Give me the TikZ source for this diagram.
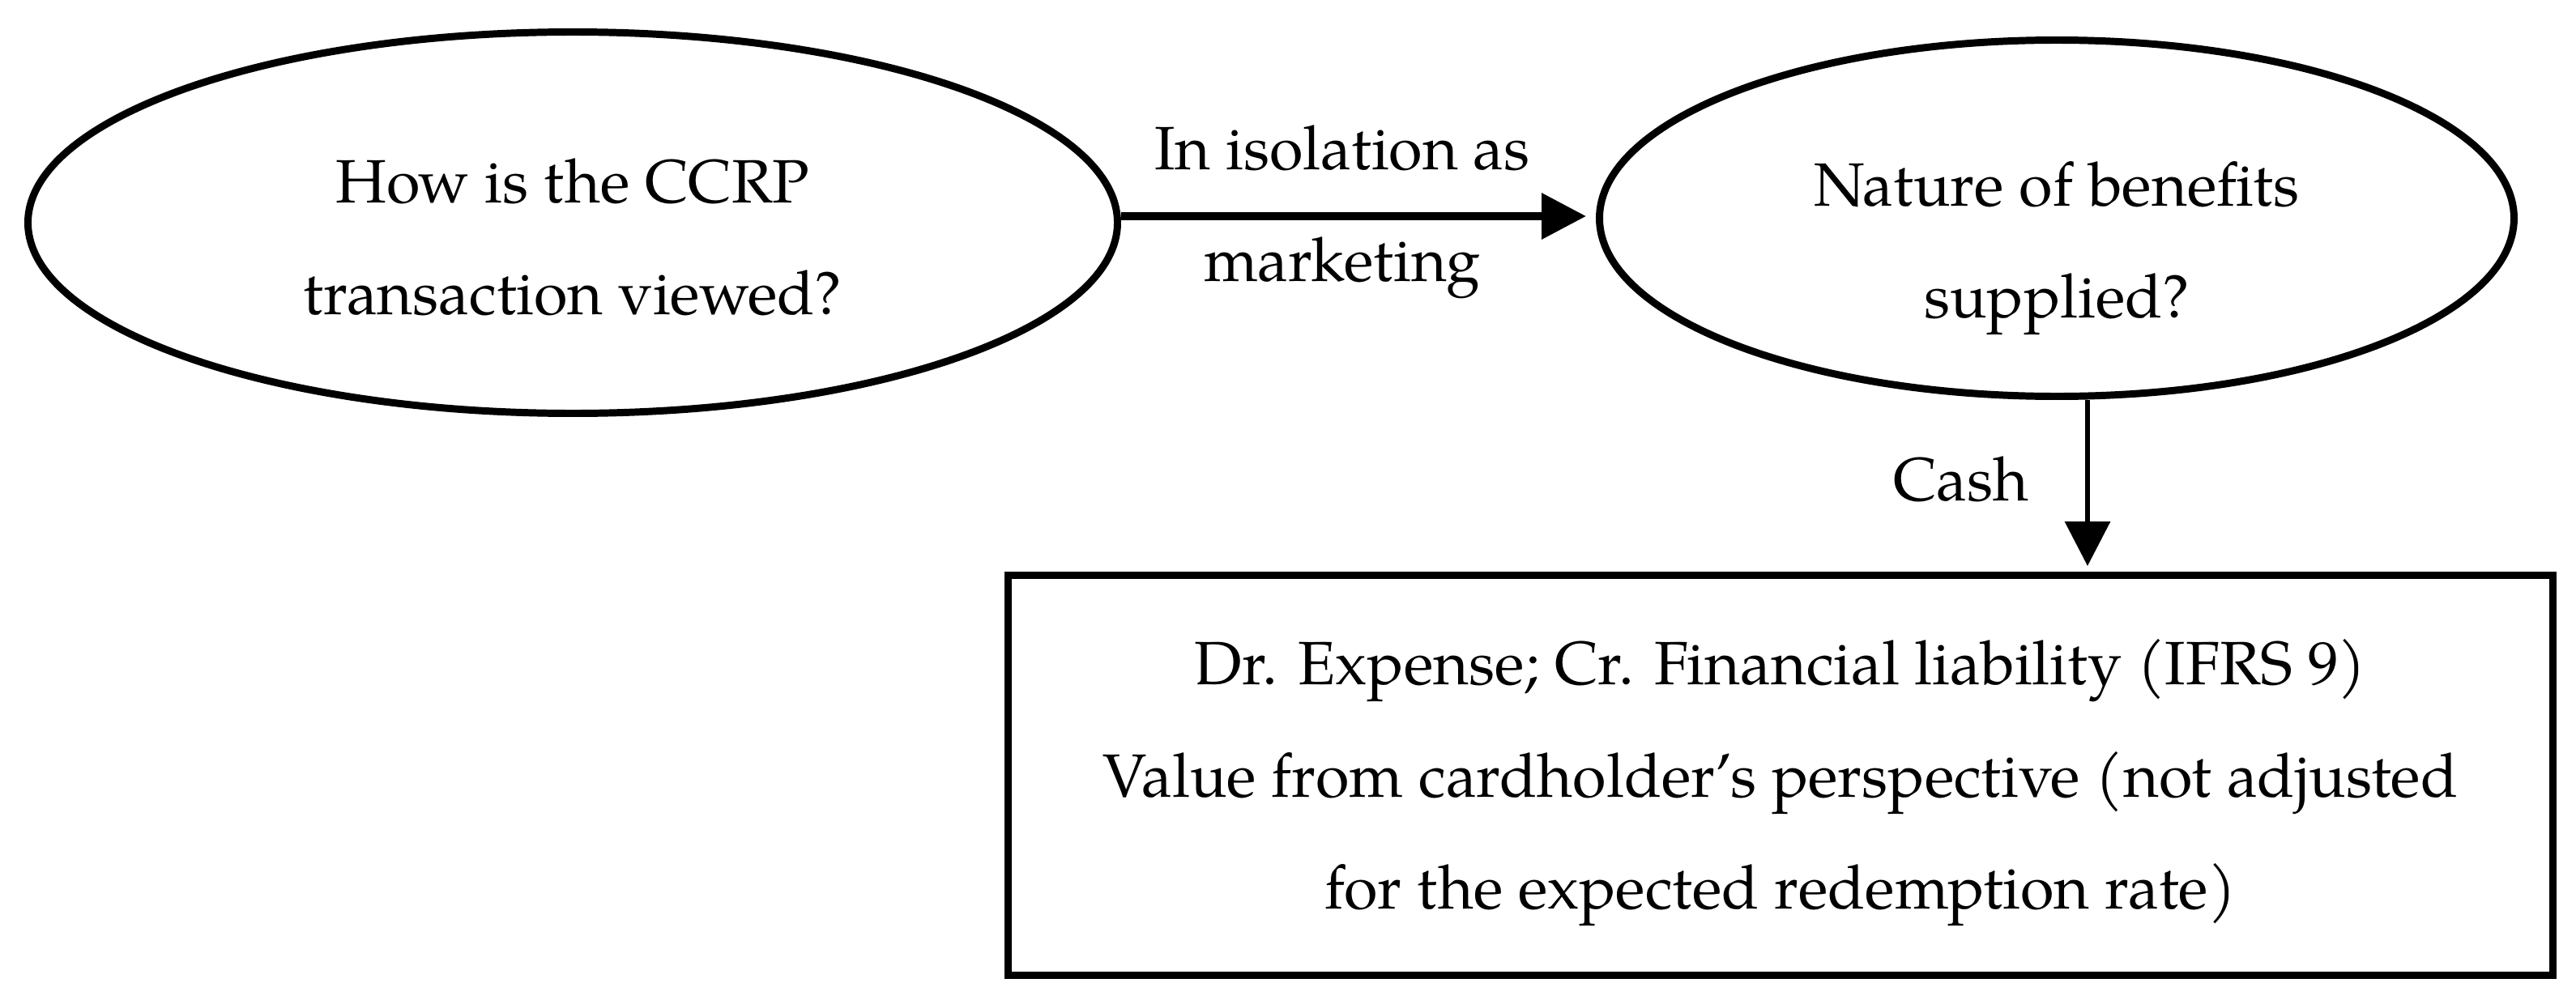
\documentclass[tikz,border=0pt]{standalone}
\usepackage{fontspec}
\setmainfont{TeX Gyre Pagella}
\usetikzlibrary{shapes.geometric,arrows.meta}
\newcommand{\diafont}{\fontsize{21.5pt}{39.3pt}\selectfont}
\tikzset{
  oval/.style={ellipse, draw, line width=2.55pt, inner sep=0pt},
  resultbox/.style={rectangle, draw, line width=2.55pt, inner sep=0pt},
  lbl/.style={inner sep=0pt, align=center, font=\diafont},
  conn/.style={-{Triangle[length=0.55cm,width=0.55cm]}}
}
\begin{document}
\begin{tikzpicture}
\useasboundingbox (0,0) rectangle (31.8,12.34);
\node[oval, minimum width=13.45cm, minimum height=4.71cm] (q1) at (7.07,9.59) {};
\node[lbl] (q1t) at ([yshift=-0.18cm]q1.center) {How is the CCRP\\transaction viewed?};
\node[oval, minimum width=11.29cm, minimum height=4.40cm] (q2) at (25.39,9.645) {};
\node[lbl] (q2t) at ([yshift=-0.37cm]q2.center) {Nature of benefits\\supplied?};
\node[resultbox, minimum width=19.07cm, minimum height=4.94cm] (r) at (21.98,2.765) {};
\node[lbl] (rt) at ([yshift=-0.09cm]r.center) {Dr. Expense; Cr. Financial liability (IFRS 9)\\Value from cardholder’s perspective (not adjusted\\for the expected redemption rate)};
\coordinate (hy) at (0,9.67);
\coordinate (vx) at (25.77,0);
\draw[conn, line width=2.8pt] (q1.east |- hy) -- node[lbl, xshift=-0.14cm, yshift=0.05cm] (l1) {In isolation as\\marketing} ([xshift=-0.12cm]q2.west |- hy);
\draw[conn, line width=1.9pt] (q2.south -| vx) -- node[lbl, anchor=east, xshift=-0.69cm, yshift=0.045cm] (l2) {Cash} ([yshift=0.07cm]r.north -| vx);
\end{tikzpicture}
\end{document}
